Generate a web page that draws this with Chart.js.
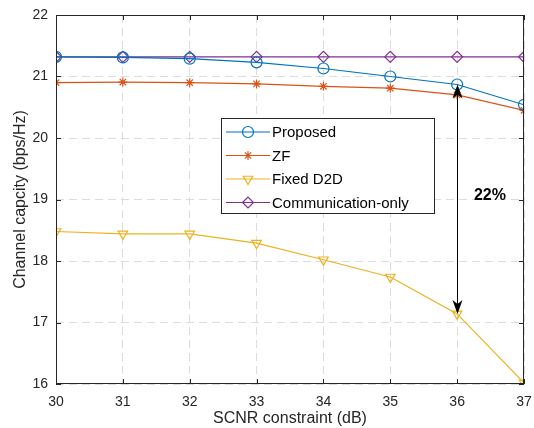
<!DOCTYPE html>
<html>
<head>
<meta charset="utf-8">
<script src="https://cdn.jsdelivr.net/npm/chart.js@4.4.0/dist/chart.umd.min.js"></script>
<style>
  html, body { margin: 0; padding: 0; background: #fff; }
  #wrap { width: 534px; height: 428px; }
</style>
</head>
<body>
<div id="wrap"><canvas id="capChart" width="534" height="428"></canvas></div>
<script>
// ================= DATA =================
const scnr = [30, 31, 32, 33, 34, 35, 36, 37];
const proposed = [21.32, 21.31, 21.29, 21.23, 21.13, 21.0, 20.87, 20.54];
const zf = [20.9, 20.91, 20.9, 20.88, 20.84, 20.81, 20.7, 20.45];
const fixedD2D = [18.48, 18.44, 18.44, 18.29, 18.02, 17.74, 17.14, 16.02];
const commOnly = [21.32, 21.32, 21.32, 21.32, 21.32, 21.32, 21.32, 21.32];

const seriesNames = ["Proposed", "ZF", "Fixed D2D", "Communication-only"];
const xTicks = [30, 31, 32, 33, 34, 35, 36, 37];
const yTicks = [16, 17, 18, 19, 20, 21, 22];

// gap annotation
const gapX = 36;
const gapTop = 20.87;
const gapBottom = 17.14;
const gapLabel = "22%";

const FONT = "'Liberation Sans', Arial, sans-serif";
const AXIS_COLOR = "#262626";

function toXY(ys) {
  return scnr.map((x, i) => ({ x: x, y: ys[i] }));
}

function makeSet(label, ys, color, style, rot) {
  return {
    label: label,
    data: toXY(ys),
    borderColor: color,
    backgroundColor: color,
    pointBorderColor: color,
    pointBackgroundColor: "rgba(0,0,0,0)",
    borderWidth: 1.2,
    pointBorderWidth: 1.2,
    pointStyle: style,
    pointRotation: rot || 0,
    pointRadius: style === "star" ? 4.5 : 5.5,
    tension: 0,
    fill: false,
  };
}

// box, inward ticks, arrow, label, legend
const decorPlugin = {
  id: "decor",
  afterDatasetsDraw(chart) {
    const ctx = chart.ctx;
    const a = chart.chartArea;
    const xs = chart.scales.x;
    const ys = chart.scales.y;

    ctx.save();
    ctx.strokeStyle = AXIS_COLOR;
    ctx.lineWidth = 1;
    ctx.setLineDash([]);
    ctx.strokeRect(a.left + 0.5, a.top + 0.5, a.right - a.left - 1, a.bottom - a.top - 1);

    // inward ticks
    ctx.beginPath();
    xTicks.forEach((t) => {
      const px = Math.round(xs.getPixelForValue(t)) + 0.5;
      ctx.moveTo(px, a.bottom);
      ctx.lineTo(px, a.bottom - 5);
      ctx.moveTo(px, a.top);
      ctx.lineTo(px, a.top + 5);
    });
    yTicks.forEach((t) => {
      const py = Math.round(ys.getPixelForValue(t)) + 0.5;
      ctx.moveTo(a.left, py);
      ctx.lineTo(a.left + 5, py);
      ctx.moveTo(a.right, py);
      ctx.lineTo(a.right - 5, py);
    });
    ctx.stroke();

    // double arrow
    const ax = Math.round(xs.getPixelForValue(gapX)) + 0.5;
    const y1 = ys.getPixelForValue(gapTop);
    const y2 = ys.getPixelForValue(gapBottom);
    ctx.strokeStyle = "#000";
    ctx.fillStyle = "#000";
    ctx.lineWidth = 1;
    ctx.beginPath();
    ctx.moveTo(ax, y1 + 8);
    ctx.lineTo(ax, y2 - 8);
    ctx.stroke();
    [[y1, 1], [y2, -1]].forEach(([yy, d]) => {
      ctx.beginPath();
      ctx.moveTo(ax, yy);
      ctx.lineTo(ax - 5, yy + d * 14);
      ctx.lineTo(ax, yy + d * 10);
      ctx.lineTo(ax + 5, yy + d * 14);
      ctx.closePath();
      ctx.fill();
    });

    ctx.font = "bold 16px " + FONT;
    ctx.textAlign = "center";
    ctx.textBaseline = "middle";
    ctx.fillText(gapLabel, xs.getPixelForValue(36.49), ys.getPixelForValue(19.07));

    // legend box
    const lx = 221, ly = 118, lw = 213, lh = 95;
    ctx.fillStyle = "#fff";
    ctx.fillRect(lx, ly, lw, lh);
    ctx.strokeStyle = AXIS_COLOR;
    ctx.strokeRect(lx + 0.5, ly + 0.5, lw, lh);
    ctx.font = "15px " + FONT;
    ctx.textAlign = "left";
    chart.data.datasets.forEach((ds, i) => {
      const yy = ly + 14 + i * 23.5;
      ctx.strokeStyle = ds.borderColor;
      ctx.lineWidth = 1.2;
      ctx.beginPath();
      ctx.moveTo(lx + 5, yy);
      ctx.lineTo(lx + 49, yy);
      ctx.stroke();
      ctx.fillStyle = "rgba(0,0,0,0)";
      Chart.helpers.drawPoint(ctx, {
        pointStyle: ds.pointStyle,
        rotation: ds.pointRotation,
        radius: ds.pointRadius,
        borderWidth: 1.2,
      }, lx + 27, yy);
      ctx.fillStyle = "#000";
      ctx.fillText(ds.label, lx + 51, yy + 1);
    });
    ctx.restore();
  },
};

const ctxEl = document.getElementById("capChart");

new Chart(ctxEl, {
  type: "line",
  data: {
    datasets: [
      makeSet(seriesNames[0], proposed, "#0072BD", "circle"),
      makeSet(seriesNames[1], zf, "#D95319", "star"),
      makeSet(seriesNames[2], fixedD2D, "#EDB120", "triangle", 180),
      makeSet(seriesNames[3], commOnly, "#7E2F8E", "rectRot"),
    ],
  },
  options: {
    responsive: false,
    animation: false,
    devicePixelRatio: 1,
    layout: { padding: { left: 0, right: 10, top: 15, bottom: 0 } },
    plugins: {
      legend: { display: false },
      tooltip: { enabled: false },
    },
    scales: {
      x: {
        type: "linear",
        min: 30,
        max: 37,
        afterBuildTicks: (s) => { s.ticks = xTicks.map((v) => ({ value: v })); },
        afterFit: (s) => {
          s.height = 44;
          s.paddingLeft = 0;
          s.paddingRight = 0;
        },
        grid: {
          color: "#dcdcdc",
          lineWidth: 1,
          drawTicks: false,
        },
        border: { display: false, dash: [8, 5] },
        ticks: {
          color: AXIS_COLOR,
          padding: 10,
          font: { family: FONT, size: 14 },
        },
        title: {
          display: true,
          text: "SCNR constraint (dB)",
          color: AXIS_COLOR,
          padding: { top: 0, bottom: 0 },
          font: { family: FONT, size: 16 },
        },
      },
      y: {
        type: "linear",
        min: 16,
        max: 22,
        afterBuildTicks: (s) => { s.ticks = yTicks.map((v) => ({ value: v })); },
        afterFit: (s) => {
          s.width = 56;
          s.paddingTop = 0;
          s.paddingBottom = 0;
        },
        grid: {
          color: "#dcdcdc",
          lineWidth: 1,
          drawTicks: false,
        },
        border: { display: false, dash: [8, 5] },
        ticks: {
          color: AXIS_COLOR,
          padding: 8,
          font: { family: FONT, size: 14 },
        },
        title: {
          display: true,
          text: "Channel capcity (bps/Hz)",
          color: AXIS_COLOR,
          padding: { top: 11, bottom: 2 },
          font: { family: FONT, size: 16 },
        },
      },
    },
  },
  plugins: [decorPlugin],
});
</script>
</body>
</html>
